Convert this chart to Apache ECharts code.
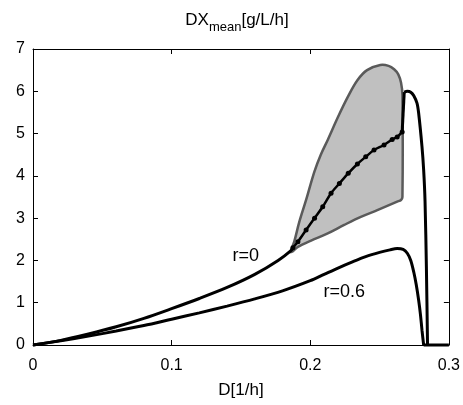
<!DOCTYPE html>
<html>
<head>
<meta charset="utf-8">
<script src="https://cdn.jsdelivr.net/npm/echarts@6/dist/echarts.min.js"></script>
<style>
  html, body { margin: 0; padding: 0; background: #fff; }
  #chart { width: 463px; height: 405px; }
</style>
</head>
<body>
<div id="chart"></div>
<script>
// r=0 curve (left part, before the shaded region)
const r0LeftD = [0, 0.02, 0.04, 0.06, 0.08, 0.1, 0.12, 0.14, 0.16, 0.1768, 0.1863, 0.1875]
const r0LeftV = [0, 0.11, 0.26, 0.43, 0.63, 0.86, 1.1, 1.36, 1.67, 2.0, 2.24, 2.3]

// r=0 dotted part inside the shaded region
const dotD = [0.1875, 0.1911, 0.197, 0.2031, 0.209, 0.215, 0.221, 0.2274, 0.234, 0.24, 0.246, 0.2532, 0.2591, 0.2627, 0.2663]
const dotV = [2.3, 2.44, 2.72, 3.0, 3.27, 3.59, 3.82, 4.06, 4.28, 4.45, 4.61, 4.73, 4.86, 4.92, 5.04]

// r=0 jump, then the falling part
const r0JumpD = [0.2663, 0.2676, 0.2678]
const r0JumpV = [5.04, 5.06, 5.98]
const r0FallD = [0.2678, 0.27, 0.2725, 0.2746, 0.277, 0.2782, 0.2806, 0.2818, 0.2828, 0.2838, 0.2846]
const r0FallV = [5.98, 6.0, 5.98, 5.9, 5.72, 5.48, 4.69, 4.14, 3.4, 1.8, 0]
const baseD = [0.2818, 0.3]
const baseV = [0, 0]

// r=0.6 curve
const r06D = [0, 0.02, 0.04, 0.06, 0.08, 0.1, 0.12, 0.14, 0.16, 0.18, 0.2, 0.21, 0.22, 0.23, 0.24, 0.25, 0.2575, 0.2627, 0.267, 0.27, 0.2725, 0.2747, 0.2765, 0.2782, 0.2795, 0.2806, 0.2818]
const r06V = [0, 0.1, 0.21, 0.33, 0.46, 0.61, 0.76, 0.92, 1.09, 1.28, 1.52, 1.67, 1.82, 1.96, 2.09, 2.19, 2.25, 2.28, 2.26, 2.17, 2.0, 1.72, 1.42, 1.06, 0.72, 0.35, 0]

// shaded region: upper edge left->right, lower edge right->left
const bandUpD = [0.1858, 0.1885, 0.192, 0.197, 0.203, 0.2076, 0.2126, 0.22, 0.227, 0.234, 0.241, 0.2505, 0.2565, 0.2605, 0.2635, 0.2655, 0.2665, 0.2665]
const bandUpV = [2.2, 2.45, 2.9, 3.43, 4.1, 4.5, 4.85, 5.39, 5.86, 6.26, 6.5, 6.62, 6.6, 6.52, 6.4, 6.2, 5.9, 3.5]
const bandLoD = [0.2655, 0.2627, 0.2484, 0.2365, 0.2245, 0.2126, 0.2006, 0.1911, 0.1875]
const bandLoV = [3.43, 3.39, 3.19, 3.03, 2.84, 2.64, 2.47, 2.32, 2.22]

const labelD = [0.1535, 0.2245]
const labelV = [2.11, 1.26]
const labelText = ['r=0', 'r=0.6']

const font = 'Liberation Sans, Arial, sans-serif'

const zip = (xs, ys) => xs.map((x, i) => [x, ys[i]])
const bandD = bandUpD.concat(bandLoD)
const bandV = bandUpV.concat(bandLoV)

const chart = echarts.init(document.getElementById('chart'))

const axisCommon = {
  axisLine: { onZero: false, lineStyle: { color: '#000', width: 1 } },
  axisTick: { inside: true, length: 5, lineStyle: { color: '#000', width: 1 } },
  splitLine: { show: false }
}

const blackLine = function (data, smooth) {
  return {
    type: 'line', data: data, showSymbol: false, clip: false, z: 3,
    smooth: smooth,
    lineStyle: { color: '#000', width: 3 }
  }
}

chart.setOption({
  animation: false,
  title: {
    text: '{s| }{a|DX}{b|mean}{a|[g/L/h]}',
    left: 180,
    top: 7,
    textStyle: {
      fontWeight: 'normal',
      rich: {
        s: { fontSize: 1, lineHeight: 22 },
        a: { fontSize: 17, lineHeight: 17, verticalAlign: 'top', color: '#000', fontFamily: font, fontWeight: 'normal' },
        b: { fontSize: 13, lineHeight: 13, verticalAlign: 'bottom', color: '#000', fontFamily: font, fontWeight: 'normal' }
      }
    }
  },
  grid: { left: 33, right: 11, top: 49, bottom: 60 },
  xAxis: [
    Object.assign({
      type: 'value', min: 0, max: 0.3, interval: 0.1, position: 'bottom',
      axisLabel: { color: '#000', fontSize: 16, fontFamily: font, margin: 13 },
      name: 'D[1/h]', nameLocation: 'middle', nameGap: 37,
      nameTextStyle: { color: '#000', fontSize: 17, fontFamily: font }
    }, axisCommon),
    Object.assign({
      type: 'value', min: 0, max: 0.3, interval: 0.1, position: 'top',
      axisLabel: { show: false }
    }, axisCommon)
  ],
  yAxis: [
    Object.assign({
      type: 'value', min: 0, max: 7, interval: 1, position: 'left',
      axisLabel: { color: '#000', fontSize: 16, fontFamily: font, margin: 8 }
    }, axisCommon),
    Object.assign({
      type: 'value', min: 0, max: 7, interval: 1, position: 'right',
      axisLabel: { show: false }
    }, axisCommon)
  ],
  series: [
    {
      type: 'custom',
      coordinateSystem: 'cartesian2d',
      data: [[0.25, 5]],
      z: 1,
      renderItem: function (params, api) {
        const pts = bandD.map((d, i) => api.coord([d, bandV[i]]))
        return {
          type: 'polygon',
          shape: { points: pts, smooth: 0.35 },
          style: { fill: '#c0c0c0', stroke: '#5a5a5a', lineWidth: 2.5, lineJoin: 'round' }
        }
      }
    },
    blackLine(zip(r06D, r06V), 0.3),
    blackLine(zip(r0LeftD, r0LeftV), 0.3),
    {
      type: 'line', data: zip(dotD, dotV), symbol: 'circle', symbolSize: 5, showSymbol: true, z: 4,
      smooth: 0.3,
      itemStyle: { color: '#000' },
      lineStyle: { color: '#000', width: 2.5 }
    },
    blackLine(zip(r0JumpD, r0JumpV), false),
    blackLine(zip(r0FallD, r0FallV), 0.3),
    blackLine(zip(baseD, baseV), false)
  ]
})

// curve labels, placed in data coordinates
chart.setOption({
  graphic: labelText.map((t, i) => {
    const p = chart.convertToPixel({ gridIndex: 0 }, [labelD[i], labelV[i]])
    return {
      type: 'text', x: p[0], y: p[1], z: 100,
      style: { text: t, fill: '#000', fontSize: 18, fontFamily: font, align: 'center', verticalAlign: 'middle' }
    }
  })
})
</script>
</body>
</html>
